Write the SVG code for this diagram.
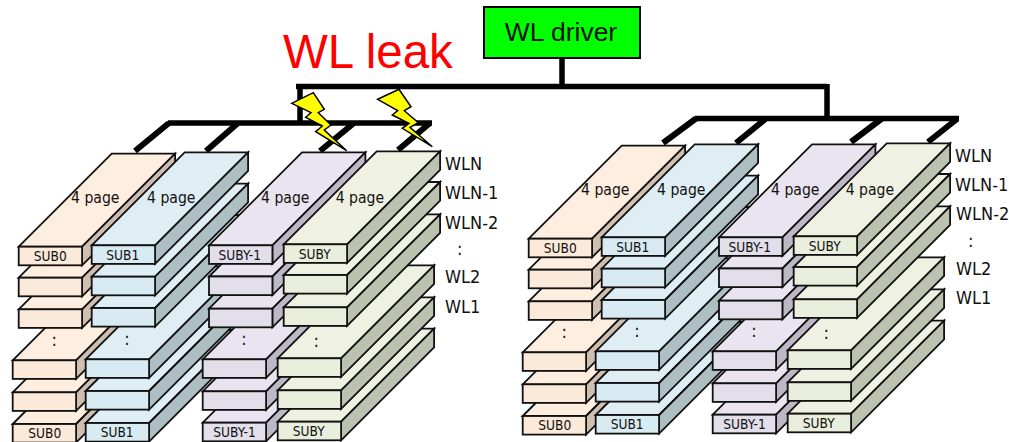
<svg xmlns="http://www.w3.org/2000/svg" xmlns:xlink="http://www.w3.org/1999/xlink" width="1009" height="442" viewBox="0 0 1009 442">
<style>
.t{fill:var(--t)}.s{fill:var(--s)}.f{fill:var(--f)}
.t,.s,.f{stroke:#111;stroke-width:1.8;stroke-linejoin:miter}
.c0{--t:#fdeee0;--s:#cfbfb0;--f:#fbe9d9}
.c1{--t:#deeef4;--s:#aebfc3;--f:#d9ebf2}
.c2{--t:#e9e4ef;--s:#bdb8c5;--f:#e2deea}
.c3{--t:#eff2e3;--s:#bdc1af;--f:#e9eedd}
text{font-family:"DejaVu Sans Condensed","DejaVu Sans",sans-serif;fill:#111}
.sub{font-size:13.6px;text-anchor:middle}
.page{font-size:15.6px}
.wl{font-size:18px}
.w{fill:none;stroke:#000;stroke-width:5.5}
.d{fill:none;stroke:#000;stroke-width:6}
.bolt{fill:#ffff00;stroke:#000;stroke-width:1.5}
</style>
<defs>
<g id="slab">
<polygon class="t" points="0,0 93,-93 156.4,-93 63.4,0"/>
<polygon class="s" points="63.4,0 156.4,-93 156.4,-74.400 63.4,18.6"/>
<rect class="f" x="0" y="0" width="63.4" height="18.6"/>
</g>
</defs>
<g id="connectors">
<path class="w" d="M562 58V86M296 86.500H827M827 84V119M300 86V123M168 123H432M695 118.500H959"/>
<path class="d" d="M135 151L169 123M206 151L238 123M320 151L354 123M398 150L430 123M663 143L696 118.500M736 143L766 118.500M851 142L882 118.500M928 142L957 119"/>
</g>
<g id="left-sub0" class="c0">
<use href="#slab" x="12.700" y="424"/><use href="#slab" x="12.700" y="392.300"/><use href="#slab" x="12.700" y="360.300"/>
<use href="#slab" x="18.700" y="309.300"/><use href="#slab" x="18.700" y="277.700"/><use href="#slab" x="18.700" y="246.700"/>
<text class="page" x="71" y="203">4 page</text><text class="sub" x="50.300" y="261.300">SUB0</text><text class="wl" x="54.300" y="346" text-anchor="middle">:</text><text class="sub" x="44.800" y="438.300">SUB0</text>
</g>
<g id="left-sub1" class="c1">
<use href="#slab" x="85.700" y="423"/><use href="#slab" x="85.700" y="391"/><use href="#slab" x="85.700" y="359.300"/>
<use href="#slab" x="91.700" y="308"/><use href="#slab" x="91.700" y="276.700"/><use href="#slab" x="91.700" y="245.300"/>
<text class="page" x="147" y="203">4 page</text><text class="sub" x="122.800" y="260">SUB1</text><text class="wl" x="127" y="345" text-anchor="middle">:</text><text class="sub" x="117.200" y="437.300">SUB1</text>
</g>
<g id="left-suby-1" class="c2">
<use href="#slab" x="202.700" y="422.700"/><use href="#slab" x="202.700" y="391.300"/><use href="#slab" x="202.700" y="359.300"/>
<use href="#slab" x="209" y="308.700"/><use href="#slab" x="209" y="276.500"/><use href="#slab" x="209" y="245.300"/>
<text class="page" x="261" y="203">4 page</text><text class="sub" x="239.800" y="260">SUBY-1</text><text class="wl" x="244" y="345" text-anchor="middle">:</text><text class="sub" x="234.500" y="437.300">SUBY-1</text>
</g>
<g id="left-suby" class="c3">
<use href="#slab" x="277.700" y="421.700"/><use href="#slab" x="277.700" y="390.300"/><use href="#slab" x="277.700" y="358.300"/>
<use href="#slab" x="283.700" y="307.300"/><use href="#slab" x="283.700" y="275"/><use href="#slab" x="283.700" y="244.300"/>
<text class="page" x="335.700" y="203">4 page</text><text class="sub" x="314.700" y="258.700">SUBY</text><text class="wl" x="316.300" y="346.700" text-anchor="middle">:</text><text class="sub" x="308.700" y="436">SUBY</text>
</g>
<g id="right-sub0" class="c0">
<use href="#slab" x="522.700" y="416"/><use href="#slab" x="522.700" y="384.300"/><use href="#slab" x="522.700" y="352.300"/>
<use href="#slab" x="528.700" y="301.300"/><use href="#slab" x="528.700" y="269.700"/><use href="#slab" x="528.700" y="238.700"/>
<text class="page" x="581" y="195">4 page</text><text class="sub" x="560.300" y="253.300">SUB0</text><text class="wl" x="564.300" y="338" text-anchor="middle">:</text><text class="sub" x="554.800" y="430.300">SUB0</text>
</g>
<g id="right-sub1" class="c1">
<use href="#slab" x="595.700" y="415"/><use href="#slab" x="595.700" y="383"/><use href="#slab" x="595.700" y="351.300"/>
<use href="#slab" x="601.700" y="300"/><use href="#slab" x="601.700" y="268.700"/><use href="#slab" x="601.700" y="237.300"/>
<text class="page" x="657" y="195">4 page</text><text class="sub" x="632.800" y="252">SUB1</text><text class="wl" x="637" y="337" text-anchor="middle">:</text><text class="sub" x="627.200" y="429.300">SUB1</text>
</g>
<g id="right-suby-1" class="c2">
<use href="#slab" x="712.700" y="414.700"/><use href="#slab" x="712.700" y="383.300"/><use href="#slab" x="712.700" y="351.300"/>
<use href="#slab" x="719" y="300.700"/><use href="#slab" x="719" y="268.500"/><use href="#slab" x="719" y="237.300"/>
<text class="page" x="771" y="195">4 page</text><text class="sub" x="749.800" y="252">SUBY-1</text><text class="wl" x="754" y="337" text-anchor="middle">:</text><text class="sub" x="744.500" y="429.300">SUBY-1</text>
</g>
<g id="right-suby" class="c3">
<use href="#slab" x="787.700" y="413.700"/><use href="#slab" x="787.700" y="382.300"/><use href="#slab" x="787.700" y="350.300"/>
<use href="#slab" x="793.700" y="299.300"/><use href="#slab" x="793.700" y="267"/><use href="#slab" x="793.700" y="236.300"/>
<text class="page" x="845.700" y="195">4 page</text><text class="sub" x="824.700" y="250.700">SUBY</text><text class="wl" x="826.300" y="338.700" text-anchor="middle">:</text><text class="sub" x="818.700" y="428">SUBY</text>
</g>
<g id="left-labels">
<text class="wl" x="445" y="170">WLN</text><text class="wl" x="445" y="199.300">WLN-1</text><text class="wl" x="445" y="228.700">WLN-2</text><text class="wl" x="457" y="255">:</text><text class="wl" x="445" y="283.300">WL2</text><text class="wl" x="445" y="313.300">WL1</text>
</g>
<g id="right-labels">
<text class="wl" x="955" y="161.700">WLN</text><text class="wl" x="955" y="191">WLN-1</text><text class="wl" x="956" y="220.300">WLN-2</text><text class="wl" x="968" y="246.700">:</text><text class="wl" x="956" y="275">WL2</text><text class="wl" x="956" y="304.300">WL1</text>
</g>
<g id="wl-driver">
<rect x="484" y="7" width="156" height="51" fill="#00ff00" stroke="#000" stroke-width="2"/>
<text x="561" y="41.300" text-anchor="middle" style="font-family:'Liberation Sans',Arial,sans-serif;font-size:26.5px">WL driver</text>
</g>
<g id="wl-leak">
<text x="283" y="68" style="font-family:'Liberation Sans',Arial,sans-serif;font-size:47.5px;fill:#ff0000">WL leak</text>
<polygon class="bolt" points="291.700,103.300 313.300,92.700 324.300,109.300 318.300,112.700 331,125 324.300,130 346.700,150.700 315.700,131.700 322.300,126 305.700,117.300 311,112.700"/>
<polygon class="bolt" points="377.700,99.300 399,89.300 411,106.700 404.300,110.700 418.300,122.700 410,127.300 432.300,146.700 402.300,128.300 409,123.300 392.300,115 397.700,110.700"/>
</g>
</svg>
